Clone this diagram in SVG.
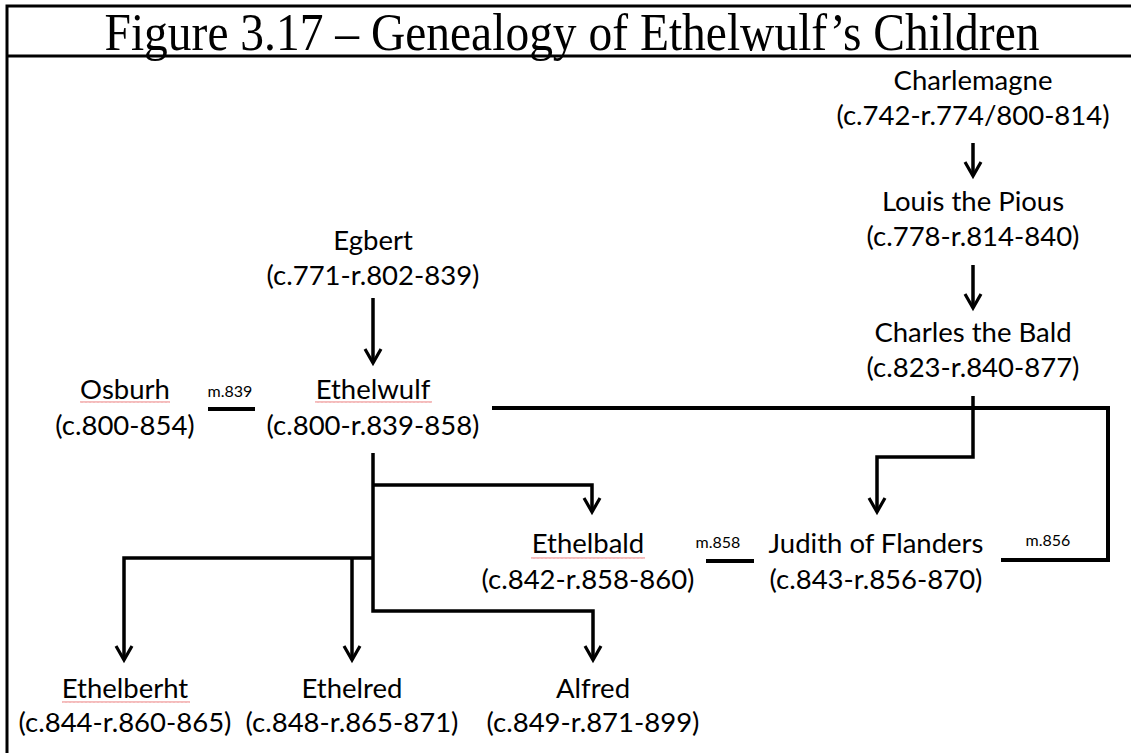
<svg xmlns="http://www.w3.org/2000/svg" width="1131" height="753" viewBox="0 0 1131 753">
  <style>
    .frame { fill: none; stroke: #000; stroke-width: 3; }
    .title { font-family: "Liberation Serif", "Times New Roman", serif; font-size: 52px; fill: #000; text-anchor: middle; }
    .name { font-family: Lato, "Liberation Sans", sans-serif; font-size: 27.5px; fill: #000; text-anchor: middle; }
    .date { font-family: Lato, "Liberation Sans", sans-serif; font-size: 27.5px; fill: #000; text-anchor: middle; }
    .marr { font-family: Lato, "Liberation Sans", sans-serif; font-size: 16px; fill: #000; text-anchor: middle; }
    .link { fill: none; stroke: #000; stroke-width: 4; stroke-linejoin: miter; stroke-linecap: square; }
    .descent { fill: none; stroke: #000; stroke-width: 3.5; marker-end: url(#vhead); }
    .spell { fill: url(#squiggle); }
  </style>
  <defs>
    <!-- open chevron arrowhead for lines of descent -->
    <marker id="vhead" markerUnits="userSpaceOnUse" viewBox="-10 -16 20 18" refX="0" refY="0" markerWidth="20" markerHeight="18" orient="auto-start-reverse" overflow="visible">
      <path d="M-8,-14 L0,0 L8,-14" transform="rotate(-90)" fill="none" stroke="#000" stroke-width="3.2" stroke-linejoin="miter"/>
    </marker>
    <!-- wavy spell-check underline -->
    <pattern id="squiggle" patternUnits="userSpaceOnUse" width="4" height="4">
      <path d="M0,3 L1,1 L2,3 L3,1 L4,3" fill="none" stroke="#e85050" stroke-width="0.6" opacity="0.7"/>
    </pattern>
  </defs>

  <!-- frame and title bar -->
  <path class="frame" d="M7,753 V6 H1131"/>
  <line class="frame" x1="7" y1="56" x2="1131" y2="56"/>
  <text class="title" x="572" y="50" textLength="935" lengthAdjust="spacingAndGlyphs">Figure 3.17 – Genealogy of Ethelwulf’s Children</text>

  <!-- connectors -->
  <g id="connectors">
    <path class="descent" d="M973,143 V176"/>
    <path class="descent" d="M973,265 V308"/>
    <path class="descent" d="M373,298 V363"/>
    <path class="descent" d="M973,396 V457 H877 V512"/>
    <path class="descent" d="M373,485 H592 V512"/>
    <path class="descent" d="M373,453 V611 H593 V660"/>
    <path class="descent" d="M373,558 H124 V660"/>
    <path class="descent" d="M352,558 V660"/>
    <path class="link" d="M210,409 H253"/>
    <path class="link" d="M494,408 H1108 V560 H1003"/>
    <path class="link" d="M708,561 H752"/>
  </g>

  <!-- people -->
  <g id="charlemagne">
    <text class="name" x="973" y="90">Charlemagne</text>
    <text class="date" x="973" y="125">(c.742-r.774/800-814)</text>
  </g>
  <g id="louis">
    <text class="name" x="973" y="211">Louis the Pious</text>
    <text class="date" x="973" y="246">(c.778-r.814-840)</text>
  </g>
  <g id="charles">
    <text class="name" x="973" y="342">Charles the Bald</text>
    <text class="date" x="973" y="377">(c.823-r.840-877)</text>
  </g>
  <g id="egbert">
    <text class="name" x="373" y="250">Egbert</text>
    <text class="date" x="373" y="285">(c.771-r.802-839)</text>
  </g>
  <g id="osburh">
    <text class="name" x="125" y="399">Osburh</text>
    <rect class="spell" x="80" y="401" width="90" height="4"/>
    <text class="date" x="125" y="435">(c.800-854)</text>
  </g>
  <g id="marriage-839">
    <text class="marr" x="230" y="397">m.839</text>
  </g>
  <g id="ethelwulf">
    <text class="name" x="373" y="399">Ethelwulf</text>
    <rect class="spell" x="315" y="401" width="117" height="4"/>
    <text class="date" x="373" y="435">(c.800-r.839-858)</text>
  </g>
  <g id="ethelbald">
    <text class="name" x="588" y="553">Ethelbald</text>
    <rect class="spell" x="531" y="555" width="114" height="4"/>
    <text class="date" x="588" y="589">(c.842-r.858-860)</text>
  </g>
  <g id="marriage-858">
    <text class="marr" x="718" y="548">m.858</text>
  </g>
  <g id="judith">
    <text class="name" x="876" y="553">Judith of Flanders</text>
    <text class="date" x="876" y="589">(c.843-r.856-870)</text>
  </g>
  <g id="marriage-856">
    <text class="marr" x="1048" y="546">m.856</text>
  </g>
  <g id="ethelberht">
    <text class="name" x="125" y="698">Ethelberht</text>
    <rect class="spell" x="62" y="700" width="128" height="4"/>
    <text class="date" x="125" y="732">(c.844-r.860-865)</text>
  </g>
  <g id="ethelred">
    <text class="name" x="352" y="698">Ethelred</text>
    <text class="date" x="352" y="732">(c.848-r.865-871)</text>
  </g>
  <g id="alfred">
    <text class="name" x="593" y="698">Alfred</text>
    <text class="date" x="593" y="732">(c.849-r.871-899)</text>
  </g>
</svg>
